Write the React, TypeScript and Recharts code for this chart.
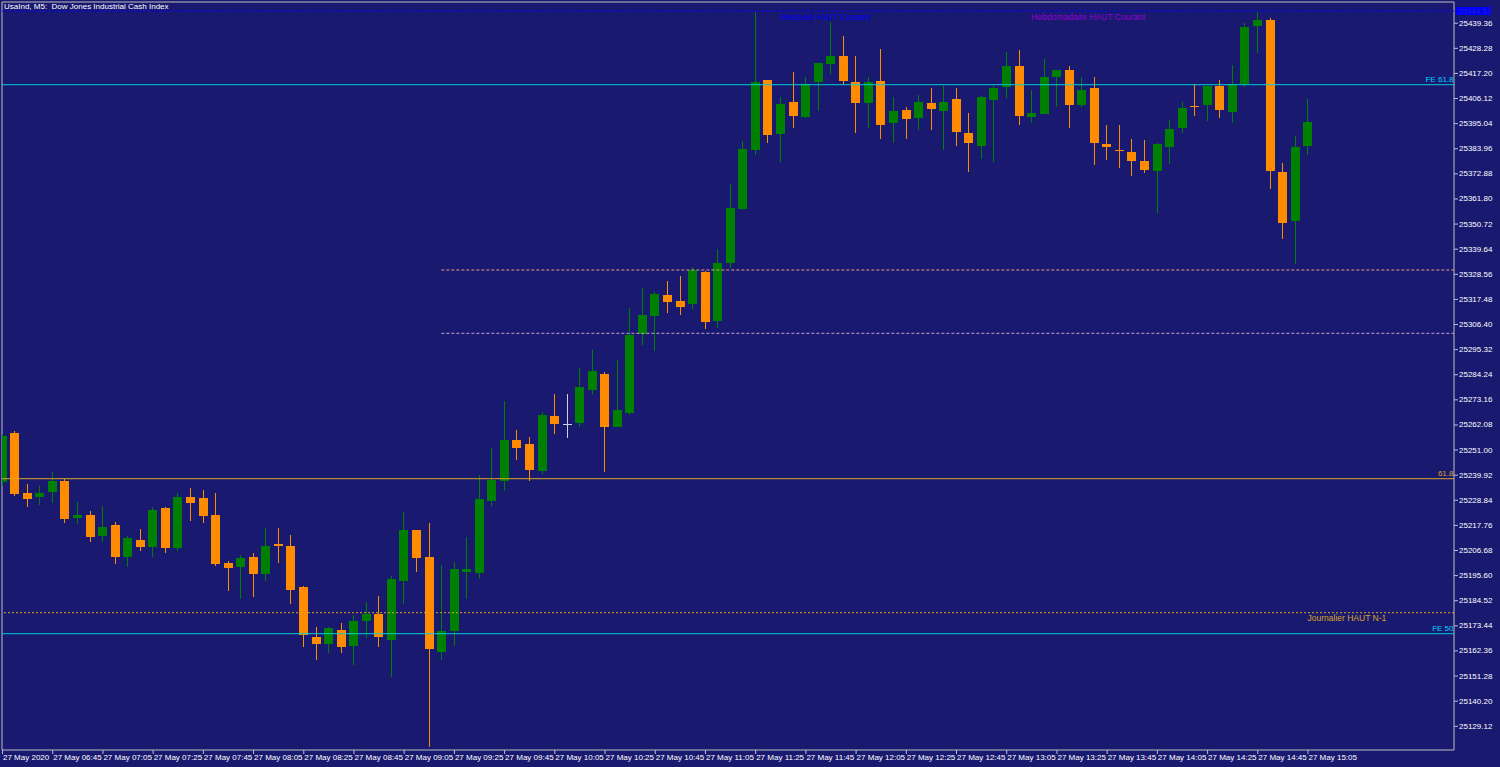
import React from 'react';
import {
  ComposedChart,
  Bar,
  XAxis,
  YAxis,
  ReferenceLine,
  ReferenceArea,
  ReferenceDot,
} from 'recharts';

// UsaInd M5, 27 May 2020, one candle every 5 minutes from 06:25 to 15:05
const opens = [
  25236.69, 25258.18, 25231.83, 25230.29, 25232.41, 25237.0, 25220.67, 25222.13, 25212.86, 25217.85,
  25203.46, 25211.09, 25207.88, 25225.21, 25207.56, 25230.07, 25229.63, 25222.13, 25200.94, 25199.31,
  25203.59, 25196.22, 25209.33, 25208.31, 25190.22, 25168.29, 25165.33, 25171.38, 25164.45, 25175.48,
  25178.44, 25167.1, 25193.0, 25215.51, 25203.46, 25161.8, 25170.94, 25196.84, 25196.67, 25228.44,
  25237.26, 25255.22, 25253.32, 25241.54, 25265.68, 25262.41, 25262.86, 25277.15, 25284.35, 25260.83,
  25267.14, 25302.0, 25309.94, 25319.21, 25316.56, 25315.23, 25329.35, 25307.86, 25333.19, 25357.15,
  25383.06, 25414.08, 25390.25, 25404.37, 25397.88, 25413.2, 25421.14, 25424.54, 25413.33, 25404.06,
  25413.5, 25395.24, 25400.71, 25397.31, 25403.8, 25400.4, 25405.56, 25390.56, 25384.95, 25405.25,
  25411.12, 25420.26, 25397.88, 25399.08, 25415.27, 25418.36, 25403.18, 25410.42, 25385.97, 25383.32,
  25382.17, 25378.34, 25374.06, 25384.38, 25393.03, 25402.47, 25403.18, 25411.43, 25399.96, 25412.18,
  25438.04, 25440.42, 25373.61, 25351.99, 25385.09,
];

const highs = [
  25257.87, 25259.19, 25235.81, 25234.92, 25241.1, 25238.14, 25227.86, 25223.89, 25226.1, 25219.04,
  25212.86, 25215.95, 25225.79, 25225.66, 25231.7, 25233.91, 25233.16, 25231.7, 25201.96, 25204.34,
  25205.36, 25216.39, 25216.39, 25213.3, 25190.8, 25172.7, 25172.84, 25174.6, 25178.0, 25183.74,
  25186.38, 25195.21, 25223.45, 25215.73, 25218.6, 25200.19, 25201.52, 25212.42, 25239.64, 25251.56,
  25272.56, 25259.63, 25256.41, 25267.71, 25275.52, 25275.52, 25286.99, 25294.94, 25285.36, 25290.52,
  25313.47, 25322.43, 25320.66, 25325.52, 25327.59, 25331.43, 25329.58, 25339.37, 25368.05, 25387.16,
  25444.22, 25414.3, 25406.44, 25417.61, 25415.4, 25421.58, 25439.67, 25433.49, 25424.67, 25415.4,
  25427.76, 25406.58, 25402.3, 25407.46, 25410.55, 25411.43, 25410.55, 25399.52, 25406.89, 25411.43,
  25426.43, 25427.32, 25409.67, 25423.34, 25418.71, 25420.26, 25415.4, 25415.4, 25394.22, 25394.22,
  25388.04, 25387.6, 25386.41, 25396.43, 25404.37, 25412.31, 25411.56, 25414.08, 25420.7, 25439.36,
  25444.66, 25441.44, 25377.45, 25389.37, 25405.56,
];

const lows = [
  25234.92, 25230.51, 25225.66, 25226.54, 25227.42, 25218.73, 25218.29, 25210.34, 25210.34, 25200.5,
  25199.31, 25206.37, 25203.46, 25205.49, 25206.37, 25219.61, 25218.73, 25199.75, 25188.59, 25185.19,
  25186.07, 25193.13, 25201.08, 25182.99, 25164.01, 25158.14, 25161.1, 25161.23, 25156.07, 25167.85,
  25164.01, 25150.77, 25182.99, 25197.11, 25119.88, 25158.14, 25164.45, 25185.06, 25194.33, 25226.1,
  25232.85, 25246.4, 25237.0, 25240.09, 25257.74, 25255.97, 25261.09, 25275.39, 25241.23, 25260.74,
  25266.39, 25297.14, 25294.49, 25311.26, 25310.38, 25313.03, 25304.2, 25304.78, 25331.25, 25356.93,
  25380.98, 25386.15, 25377.89, 25392.9, 25397.18, 25400.4, 25416.86, 25411.87, 25390.82, 25393.03,
  25387.91, 25386.15, 25387.91, 25392.15, 25392.15, 25383.32, 25384.95, 25373.35, 25379.35, 25377.89,
  25406.27, 25394.35, 25395.24, 25398.86, 25402.03, 25393.03, 25402.03, 25376.7, 25378.91, 25375.11,
  25371.85, 25373.04, 25355.26, 25377.14, 25390.82, 25398.33, 25396.12, 25397.18, 25395.24, 25411.12,
  25425.99, 25366.11, 25344.05, 25332.88, 25381.12,
];

const closes = [
  25256.99, 25231.39, 25229.19, 25231.83, 25237.0, 25220.49, 25222.13, 25212.55, 25216.83, 25203.73,
  25211.98, 25207.88, 25224.2, 25207.56, 25230.07, 25227.55, 25221.82, 25200.64, 25198.61, 25203.28,
  25196.22, 25208.45, 25208.31, 25188.9, 25169.17, 25165.33, 25172.26, 25164.01, 25175.35, 25178.44,
  25168.16, 25193.75, 25215.51, 25203.02, 25162.86, 25171.07, 25198.43, 25198.43, 25229.19, 25237.7,
  25255.22, 25251.82, 25241.85, 25266.25, 25262.28, 25262.41, 25278.48, 25285.67, 25261.09, 25268.46,
  25301.55, 25310.38, 25319.65, 25316.12, 25314.04, 25330.24, 25307.16, 25333.33, 25357.73, 25383.63,
  25413.33, 25389.81, 25403.49, 25398.19, 25412.18, 25421.45, 25424.54, 25413.64, 25404.06, 25413.06,
  25394.35, 25400.27, 25396.87, 25404.37, 25401.28, 25404.37, 25391.26, 25386.15, 25406.58, 25410.55,
  25420.26, 25398.19, 25399.52, 25415.4, 25418.49, 25403.18, 25409.67, 25386.15, 25384.38, 25383.06,
  25378.34, 25374.5, 25385.7, 25392.32, 25401.72, 25402.16, 25411.43, 25400.97, 25412.18, 25437.33,
  25440.69, 25374.06, 25351.11, 25384.38, 25395.54,
];

// one label every 4 candles
const timeLabels = [
  '27 May 2020', '27 May 06:45', '27 May 07:05', '27 May 07:25', '27 May 07:45', '27 May 08:05',
  '27 May 08:25', '27 May 08:45', '27 May 09:05', '27 May 09:25', '27 May 09:45', '27 May 10:05',
  '27 May 10:25', '27 May 10:45', '27 May 11:05', '27 May 11:25', '27 May 11:45', '27 May 12:05',
  '27 May 12:25', '27 May 12:45', '27 May 13:05', '27 May 13:25', '27 May 13:45', '27 May 14:05',
  '27 May 14:25', '27 May 14:45', '27 May 15:05',
];

const priceTicks = [
  25129.12, 25140.2, 25151.28, 25162.36, 25173.44, 25184.52, 25195.6, 25206.68, 25217.76, 25228.84,
  25239.92, 25251.0, 25262.08, 25273.16, 25284.24, 25295.32, 25306.4, 25317.48, 25328.56, 25339.64,
  25350.72, 25361.8, 25372.88, 25383.96, 25395.04, 25406.12, 25417.2, 25428.28, 25439.36,
];

// levels drawn on the chart
const mensuelHaut = 25444.53;
const fe618 = 25412.0;
const fib618 = 25238.14;
const fe50 = 25169.75;
const journalierN1 = 25179.01;
const levelUpper = 25330.24;
const levelLower = 25302.3;

const candles = opens.map((open, i) => ({
  i,
  open,
  high: highs[i],
  low: lows[i],
  close: closes[i],
}));

const timeTicks = timeLabels.map((_, j) => j * 4);

const X_MAX = 115.67;
const Y_MIN = 25118.43;
const Y_MAX = 25448.5;

const BG = '#191970';
const BULL = '#008000';
const BEAR = '#ff8c00';
const DOJI = '#d0d0e8';
const FRAME = '#c0c0c0';
const FONT = '"Liberation Sans", Arial, sans-serif';

const Candle = (props: any) => {
  const { x, y, width, height, payload } = props;
  const { open, high, low, close } = payload;
  const k = high > low ? height / (high - low) : 0;
  const py = (v: number) => y + (high - v) * k;
  const left = Math.round(x);
  const mid = left + Math.floor(width / 2) + 0.5;
  const color = close > open ? BULL : close < open ? BEAR : DOJI;
  const top = Math.round(py(Math.max(open, close)));
  const bottom = Math.round(py(Math.min(open, close)));
  return (
    <g shapeRendering="crispEdges">
      <line x1={mid} x2={mid} y1={py(high)} y2={py(low)} stroke={color} strokeWidth={1} />
      {close === open ? (
        <line x1={left} x2={left + width} y1={top + 0.5} y2={top + 0.5} stroke={color} />
      ) : (
        <rect x={left} y={top} width={width} height={Math.max(1, bottom - top)} fill={color} />
      )}
    </g>
  );
};

const TimeTick = (props: any) => {
  const { x, y, payload } = props;
  const label = timeLabels[Math.round(payload.value / 4)];
  return (
    <g>
      <line x1={x + 0.5} x2={x + 0.5} y1={y} y2={y + 4} stroke={FRAME} />
      <text x={x + 1} y={y + 10} fill="#ffffff" fontSize={8} fontFamily={FONT}>
        {label}
      </text>
    </g>
  );
};

const PriceTick = (props: any) => {
  const { x, y, payload } = props;
  return (
    <g>
      <line x1={x} x2={x + 4} y1={y + 0.5} y2={y + 0.5} stroke={FRAME} />
      <text x={x + 5} y={y + 3} fill="#ffffff" fontSize={8} fontFamily={FONT}>
        {payload.value.toFixed(2)}
      </text>
    </g>
  );
};

const rightTag = (text: string, color: string) => (props: any) => {
  const vb = props.viewBox;
  return (
    <text
      x={vb.x + vb.width - 0.5}
      y={vb.y - 2.5}
      textAnchor="end"
      fill={color}
      fontSize={8}
      fontFamily={FONT}
    >
      {text}
    </text>
  );
};

const priceBox = (props: any) => {
  const vb = props.viewBox;
  const x = vb.x + vb.width + 2;
  return (
    <g>
      <rect x={x} y={vb.y - 4} width={35} height={8} fill="#0000ff" />
      <text x={x + 2} y={vb.y + 3} fill="#2020c0" fontSize={8} fontFamily={FONT}>
        {mensuelHaut.toFixed(2)}
      </text>
    </g>
  );
};

const textAt = (text: string, color: string) => (props: any) => {
  const vb = props.viewBox;
  return (
    <text x={vb.x} y={vb.y} fill={color} fontSize={8.5} fontFamily={FONT}>
      {text}
    </text>
  );
};

export default function App() {
  return (
    <div style={{ position: 'absolute', left: 0, top: 0, width: 1500, height: 767, background: BG }}>
      <ComposedChart
        width={1500}
        height={767}
        data={candles}
        margin={{ top: 2, right: 0, bottom: 0, left: 2 }}
      >
        <XAxis
          type="number"
          dataKey="i"
          domain={[0, X_MAX]}
          allowDataOverflow
          ticks={timeTicks}
          interval={0}
          tick={<TimeTick />}
          tickLine={false}
          axisLine={false}
          tickSize={0}
          tickMargin={0}
          height={17}
        />
        <YAxis
          orientation="right"
          type="number"
          domain={[Y_MIN, Y_MAX]}
          allowDataOverflow
          ticks={priceTicks}
          interval={0}
          tick={<PriceTick />}
          tickLine={false}
          axisLine={false}
          tickSize={0}
          tickMargin={0}
          width={46}
        />
        <Bar
          dataKey={(d: any) => [d.low, d.high]}
          shape={Candle}
          barSize={9}
          isAnimationActive={false}
        />
        <ReferenceLine y={mensuelHaut} stroke="#0000ff" strokeDasharray="3 2" label={priceBox} />
        <ReferenceLine y={fe618} stroke="#00ced1" label={rightTag('FE 61.8', '#00d8ff')} />
        <ReferenceLine y={fib618} stroke="#daa520" label={rightTag('61.8', '#daa520')} />
        <ReferenceLine y={fe50} stroke="#00ced1" label={rightTag('FE 50', '#00d8ff')} />
        <ReferenceLine y={journalierN1} stroke="#daa520" strokeDasharray="2 2" />
        <ReferenceLine
          segment={[{ x: 35, y: levelUpper }, { x: X_MAX, y: levelUpper }]}
          stroke="#e0a080"
          strokeDasharray="3 2"
        />
        <ReferenceLine
          segment={[{ x: 35, y: levelLower }, { x: X_MAX, y: levelLower }]}
          stroke="#c8a0d0"
          strokeDasharray="3 2"
        />
        <ReferenceDot x={62} y={25440.55} r={0} label={textAt('Mensuel HAUT Courant', '#0000ff')} />
        <ReferenceDot x={82} y={25440.55} r={0} label={textAt('Hebdomadaire HAUT Courant', '#9400d3')} />
        <ReferenceDot x={104} y={25175.2} r={0} label={textAt('Journalier HAUT N-1', '#daa520')} />
        <ReferenceArea x1={0} x2={X_MAX} y1={Y_MIN} y2={Y_MAX} fill="none" stroke={FRAME} />
      </ComposedChart>
      <div
        style={{
          position: 'absolute',
          left: 4,
          top: 2,
          color: '#ffffff',
          fontSize: 8,
          fontFamily: FONT,
          whiteSpace: 'pre',
          lineHeight: '10px',
        }}
      >
        {'UsaInd, M5:  Dow Jones Industrial Cash Index'}
      </div>
    </div>
  );
}
